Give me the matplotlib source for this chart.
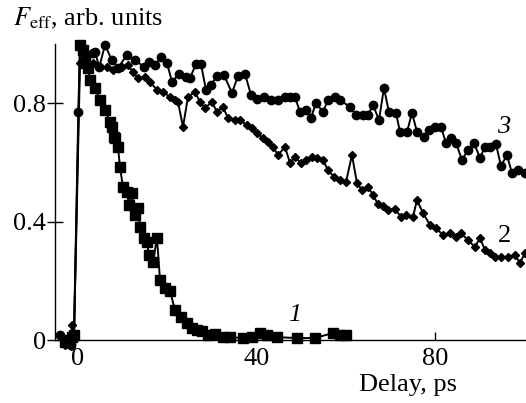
import matplotlib
matplotlib.use("Agg")
import matplotlib.pyplot as plt

plt.rcParams['font.family'] = ['Liberation Serif', 'DejaVu Serif']
plt.rcParams['mathtext.fontset'] = 'stix'

# curve 1 (squares)
x1 = [-2.9, -1.8, -1.34, -0.90, 0.45, 1.12, 1.57, 2.24, 2.69, 3.81, 4.93, 6.05, 7.17, 7.62,
      8.0, 8.3, 8.96, 9.41, 10.08, 10.98, 11.43, 12.10, 12.77, 13.45, 13.89, 14.79, 15.46,
      15.91, 16.81, 17.70, 18.38, 19.50, 20.62, 21.74, 23.08, 24.43, 25.55, 26.67, 27.79,
      29.13, 30.70, 32.49, 34.06, 36.97, 38.99, 40.78, 42.35, 44.59, 49.08, 53.11, 57.14,
      58.71, 60.06]
y1 = [-0.005, 0.0, 0.010, 0.017, 0.997, 0.980, 0.936, 0.919, 0.878, 0.851, 0.811, 0.777,
      0.736, 0.720, 0.686, 0.682, 0.652, 0.584, 0.517, 0.500, 0.456, 0.497, 0.422, 0.446,
      0.382, 0.345, 0.331, 0.287, 0.264, 0.345, 0.203, 0.176, 0.166, 0.101, 0.078, 0.057,
      0.041, 0.034, 0.030, 0.017, 0.020, 0.010, 0.010, 0.007, 0.010, 0.024, 0.017, 0.010,
      0.007, 0.007, 0.024, 0.017, 0.017]

# curve 2 (diamonds)
x2 = [-2.91, -1.57, -1.34, -0.90, 0.45, 1.12, 2.02, 3.36, 4.93, 6.50, 7.84, 9.86, 11.20,
      12.32, 13.45, 15.01, 16.13, 17.70, 19.05, 20.62, 21.74, 22.41, 23.53, 24.65, 26.22,
      27.34, 28.46, 30.03, 31.15, 32.49, 33.61, 35.18, 36.30, 37.87, 38.99, 40.11, 41.46,
      42.58, 43.70, 44.82, 46.39, 47.51, 48.63, 49.97, 51.09, 52.44, 53.56, 54.90, 56.02,
      57.37, 58.71, 60.06, 61.40, 62.52, 63.64, 64.99, 66.11, 67.23, 68.35, 69.47, 71.04,
      72.38, 73.50, 75.07, 75.97, 77.31, 78.88, 80.22, 81.79, 83.36, 84.71, 85.83, 87.39,
      88.96, 90.08, 91.20, 92.33, 93.45, 94.79, 96.36, 97.93, 99.05, 100.17]
y2 = [-0.017, -0.020, 0.051, 0.010, 0.936, 0.970, 0.922, 0.936, 0.922, 0.922, 0.912, 0.922,
      0.929, 0.905, 0.885, 0.889, 0.872, 0.845, 0.838, 0.821, 0.811, 0.804, 0.720, 0.821,
      0.838, 0.804, 0.784, 0.804, 0.770, 0.787, 0.750, 0.743, 0.743, 0.726, 0.716, 0.699,
      0.682, 0.669, 0.652, 0.625, 0.652, 0.598, 0.618, 0.598, 0.608, 0.618, 0.615, 0.608,
      0.574, 0.551, 0.541, 0.534, 0.625, 0.530, 0.507, 0.517, 0.490, 0.459, 0.453, 0.439,
      0.443, 0.416, 0.422, 0.416, 0.473, 0.429, 0.389, 0.378, 0.355, 0.361, 0.348, 0.361,
      0.338, 0.314, 0.345, 0.304, 0.294, 0.280, 0.280, 0.280, 0.287, 0.260, 0.294]

# curve 3 (circles)
x3 = [-4.03, -2.91, -1.57, -0.90, 0.07, 0.45, 1.12, 2.02, 3.29, 3.81, 4.77, 6.05, 7.55,
      8.96, 10.98, 12.77, 14.79, 15.91, 17.25, 18.60, 19.94, 21.06, 22.63, 24.20, 25.10,
      26.44, 27.56, 28.68, 29.80, 31.15, 32.72, 34.51, 35.85, 37.42, 38.77, 40.11, 41.68,
      43.25, 44.82, 46.39, 47.51, 48.63, 49.75, 51.09, 52.21, 53.33, 54.90, 56.02, 57.59,
      58.71, 60.95, 62.30, 63.87, 64.99, 66.11, 67.45, 68.57, 69.69, 71.26, 72.16, 73.73,
      74.85, 75.97, 77.54, 78.66, 80.00, 81.34, 82.46, 83.59, 84.71, 86.05, 87.39, 88.74,
      90.08, 91.20, 92.33, 93.67, 94.79, 96.13, 97.25, 98.60, 100.17]
y3 = [0.017, -0.010, -0.017, 0.014, 0.770, 0.997, 0.980, 0.963, 0.970, 0.973, 0.922, 0.997,
      0.946, 0.919, 0.963, 0.946, 0.922, 0.939, 0.929, 0.956, 0.936, 0.872, 0.899, 0.889,
      0.885, 0.932, 0.932, 0.845, 0.861, 0.892, 0.895, 0.834, 0.892, 0.899, 0.828, 0.814,
      0.821, 0.811, 0.811, 0.821, 0.821, 0.821, 0.770, 0.777, 0.750, 0.801, 0.770, 0.811,
      0.821, 0.811, 0.787, 0.760, 0.760, 0.760, 0.794, 0.743, 0.851, 0.770, 0.767, 0.703,
      0.703, 0.767, 0.703, 0.686, 0.709, 0.720, 0.720, 0.666, 0.682, 0.666, 0.608, 0.642,
      0.666, 0.615, 0.652, 0.652, 0.662, 0.588, 0.625, 0.564, 0.574, 0.564]

xticks = [0, 40, 80]
yticks = [0, 0.4, 0.8]
ytick_labels = ['0', '0.4', '0.8']

fig = plt.figure(figsize=(5.26, 4.03), dpi=100)
ax = fig.add_axes([0.1046, 0.134, 0.8954, 0.757])

ax.plot(x1, y1, '-s', color='black', lw=1.4, ms=7, clip_on=False)
ax.plot(x2, y2, '-D', color='black', lw=1.4, ms=4.5, clip_on=False)
ax.plot(x3, y3, '-o', color='black', lw=1.4, ms=6, clip_on=False)

ax.set_xlim(-5.15, 100.4)
ax.set_ylim(-0.03, 1.0)

ax.spines['top'].set_visible(False)
ax.spines['right'].set_visible(False)
ax.spines['bottom'].set_position(('data', 0))
ax.spines['left'].set_bounds(0, 1.0)
for s in ('left', 'bottom'):
    ax.spines[s].set_linewidth(1.0)

ax.set_xticks(xticks)
ax.set_yticks(yticks)
ax.set_yticklabels(ytick_labels)
ax.tick_params(axis='x', direction='in', length=6, width=1, labelsize=19, pad=6)
ax.tick_params(axis='y', direction='inout', length=11, width=1, labelsize=19, pad=1)

ax.text(48.6, 0.085, '1', fontsize=19, style='italic', ha='center', va='center')
ax.text(95.5, 0.35, '2', fontsize=19, ha='center', va='center')
ax.text(95.5, 0.72, '3', fontsize=19, style='italic', ha='center', va='center')

fig.text(408 / 526, 1 - 385 / 403, 'Delay, ps', fontsize=19, ha='center', va='center')
fig.text(13 / 526, 1 - 18 / 403, r'$F_{\rm eff}$, arb. units', fontsize=19,
         ha='left', va='center')

fig.savefig('out.png', dpi=100)
